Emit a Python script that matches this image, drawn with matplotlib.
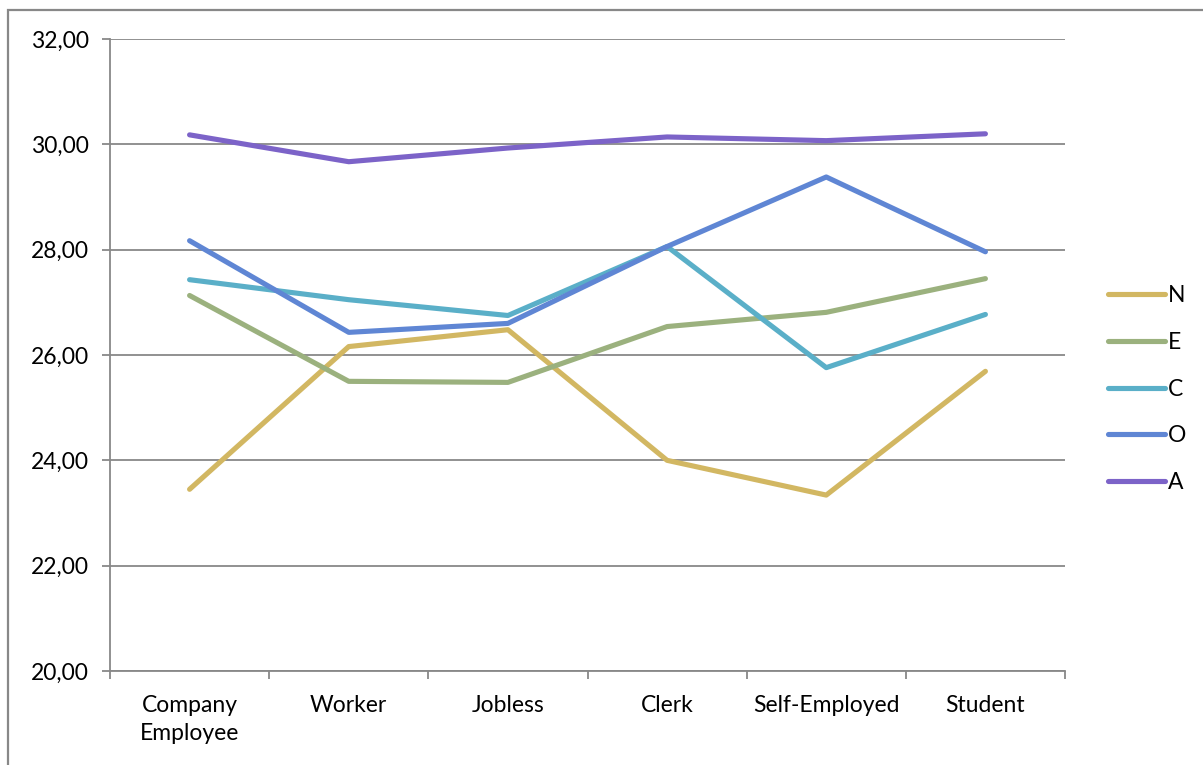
import matplotlib.pyplot as plt
from matplotlib.patches import Rectangle
from matplotlib.ticker import FuncFormatter, FixedLocator

plt.rcParams['font.family'] = ['Lato', 'DejaVu Sans']

# data
categories = ['Company\nEmployee', 'Worker', 'Jobless', 'Clerk', 'Self-Employed', 'Student']
n_vals = [23.45, 26.16, 26.48, 24.00, 23.34, 25.69]
e_vals = [27.13, 25.50, 25.48, 26.54, 26.81, 27.45]
c_vals = [27.43, 27.05, 26.75, 28.06, 25.76, 26.77]
o_vals = [28.17, 26.43, 26.60, 28.06, 29.38, 27.96]
a_vals = [30.18, 29.67, 29.93, 30.14, 30.07, 30.20]

series = [('N', n_vals, '#D2B762'), ('E', e_vals, '#9BB17E'),
          ('C', c_vals, '#5AAFC8'), ('O', o_vals, '#5F86D4'),
          ('A', a_vals, '#7C63C8')]

grid_col = '#888888'
fs = 16.5

fig = plt.figure(figsize=(12.03, 7.65), dpi=100)
ax = fig.add_axes([110/1203, 1-671/765, (1065-110)/1203, (671-39)/765])

# outer chart frame
fig.patches.append(Rectangle((8/1203, -0.1), 1.2, 1-10/765+0.1, transform=fig.transFigure,
                             fill=False, edgecolor=grid_col, lw=1.6))

x = list(range(len(categories)))
for name, vals, col in series:
    ax.plot(x, vals, color=col, lw=3.7, label=name, solid_capstyle='round')

ax.set_xlim(-0.5, len(categories) - 0.5)
ax.set_ylim(20, 32)
ax.set_yticks([20, 22, 24, 26, 28, 30, 32])
ax.yaxis.set_major_formatter(FuncFormatter(lambda v, p: f'{v:.2f}'.replace('.', ',')))
ax.yaxis.grid(True, color=grid_col, lw=1.3)
ax.set_axisbelow(True)

ax.xaxis.set_major_locator(FixedLocator([i - 0.5 for i in range(len(categories) + 1)]))
ax.xaxis.set_major_formatter(FuncFormatter(lambda v, p: ''))
ax.xaxis.set_minor_locator(FixedLocator(x))
ax.set_xticklabels(categories, minor=True, linespacing=1.45)
ax.tick_params(axis='x', which='minor', length=0, pad=17, labelsize=fs)
ax.tick_params(axis='x', which='major', length=6, width=1.3, color=grid_col)
ax.tick_params(axis='y', length=6, width=1.3, color=grid_col, pad=9, labelsize=fs)

for s in ['top', 'right']:
    ax.spines[s].set_visible(False)
for s in ['left', 'bottom']:
    ax.spines[s].set_color(grid_col)
    ax.spines[s].set_linewidth(1.3)

ax.legend(loc='center left', bbox_to_anchor=(1.035, 0.446), frameon=False, fontsize=fs,
          handlelength=2.5, handletextpad=0.15, labelspacing=1.12, borderaxespad=0)

fig.savefig('out.png', dpi=100)
